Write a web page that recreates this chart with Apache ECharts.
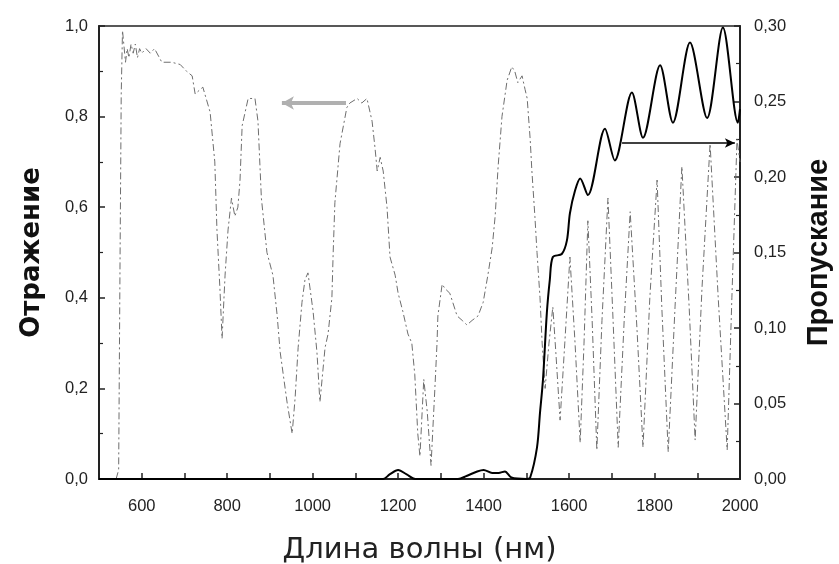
<!DOCTYPE html>
<html>
<head>
<meta charset="utf-8">
<script src="https://cdn.jsdelivr.net/npm/echarts@6/dist/echarts.min.js"></script>
<style>
  html, body { margin: 0; padding: 0; background: #fff; }
  #chart { width: 839px; height: 564px; }
</style>
</head>
<body>
<div id="chart"></div>
<script>
// Reflectance spectrum (left axis), wavelength in nm
const reflWave = [540, 546, 549, 552, 555, 558, 562, 566, 570, 575, 580, 585, 590, 595, 600, 610, 620, 630, 647, 670, 690, 705, 718, 725, 743, 760, 771, 776, 783, 788, 795, 802, 810, 818, 825, 830, 835, 849, 865, 872, 880, 893, 907, 917, 924, 940, 952, 959, 966, 975, 982, 989, 1001, 1010, 1017, 1029, 1036, 1045, 1048, 1052, 1064, 1080, 1087, 1104, 1115, 1127, 1139, 1146, 1151, 1158, 1165, 1174, 1181, 1193, 1200, 1211, 1223, 1232, 1239, 1246, 1251, 1260, 1268, 1277, 1286, 1291, 1293, 1303, 1310, 1321, 1338, 1350, 1361, 1373, 1387, 1399, 1410, 1420, 1427, 1434, 1443, 1455, 1466, 1473, 1480, 1490, 1497, 1502, 1509, 1513, 1520, 1525, 1532, 1537, 1544, 1553, 1562, 1569, 1579, 1590, 1602, 1614, 1626, 1635, 1644, 1654, 1665, 1677, 1691, 1703, 1715, 1729, 1743, 1759, 1773, 1789, 1806, 1817, 1832, 1848, 1864, 1881, 1895, 1911, 1930, 1949, 1970, 1981, 1993, 2000];
const reflValue = [0.00, 0.02, 0.45, 0.85, 0.99, 0.96, 0.92, 0.95, 0.93, 0.96, 0.94, 0.96, 0.93, 0.95, 0.94, 0.95, 0.94, 0.95, 0.92, 0.92, 0.915, 0.90, 0.89, 0.85, 0.865, 0.81, 0.70, 0.55, 0.42, 0.31, 0.45, 0.55, 0.62, 0.58, 0.60, 0.66, 0.78, 0.84, 0.84, 0.79, 0.62, 0.50, 0.45, 0.36, 0.28, 0.17, 0.10, 0.18, 0.29, 0.39, 0.44, 0.455, 0.37, 0.28, 0.17, 0.29, 0.32, 0.40, 0.50, 0.61, 0.74, 0.82, 0.83, 0.84, 0.83, 0.84, 0.79, 0.73, 0.68, 0.71, 0.68, 0.60, 0.49, 0.45, 0.41, 0.37, 0.32, 0.30, 0.23, 0.10, 0.05, 0.22, 0.15, 0.03, 0.20, 0.30, 0.36, 0.43, 0.42, 0.41, 0.36, 0.35, 0.34, 0.35, 0.36, 0.39, 0.45, 0.51, 0.58, 0.69, 0.80, 0.88, 0.91, 0.90, 0.875, 0.89, 0.86, 0.84, 0.75, 0.68, 0.58, 0.50, 0.40, 0.30, 0.20, 0.30, 0.38, 0.28, 0.13, 0.30, 0.49, 0.30, 0.08, 0.30, 0.57, 0.35, 0.064, 0.35, 0.62, 0.35, 0.07, 0.35, 0.59, 0.33, 0.07, 0.40, 0.66, 0.38, 0.06, 0.38, 0.69, 0.38, 0.086, 0.42, 0.74, 0.40, 0.064, 0.40, 0.75, 0.70];

// Transmission spectrum (right axis)
const transWave = [500, 1165, 1180, 1200, 1220, 1240, 1340, 1360, 1385, 1400, 1420, 1435, 1450, 1465, 1500, 1509, 1525, 1532, 1539, 1548, 1555, 1562, 1583, 1595, 1602, 1614, 1626, 1644, 1684, 1707, 1747, 1773, 1813, 1843, 1883, 1923, 1960, 1995, 2000];
const transValue = [0, 0, 0.003, 0.006, 0.003, 0, 0, 0.002, 0.005, 0.006, 0.004, 0.004, 0.005, 0.001, 0, 0.001, 0.021, 0.044, 0.066, 0.110, 0.132, 0.147, 0.149, 0.158, 0.176, 0.191, 0.199, 0.188, 0.232, 0.211, 0.256, 0.226, 0.274, 0.236, 0.289, 0.239, 0.299, 0.236, 0.245];

// Arrows pointing to each curve's axis
const reflArrow = [[1078, 0.83], [928, 0.83]];
const transArrow = [[1724, 0.2225], [1988, 0.2225]];

// Axis ranges
const xRange = [500, 2000];
const leftRange = [0, 1.0];
const rightRange = [0, 0.30];

const pair = (xs, ys) => xs.map((x, i) => [x, ys[i]]);
const comma = (v, d) => v.toFixed(d).replace('.', ',');

const chart = echarts.init(document.getElementById('chart'), null, { renderer: 'canvas' });

const tickFont = { fontFamily: 'Liberation Sans', fontSize: 16.5, color: '#222' };

chart.setOption({
  animation: false,
  backgroundColor: '#fff',
  grid: {
    left: 99, right: 99, top: 26, bottom: 85,
    outerBoundsMode: 'none', containLabel: false,
    show: true, borderColor: '#222', borderWidth: 1.5, backgroundColor: 'transparent'
  },
  xAxis: {
    type: 'value', min: xRange[0], max: xRange[1], interval: 100,
    name: 'Длина волны (нм)', nameLocation: 'middle', nameGap: 57,
    nameTextStyle: { fontFamily: 'DejaVu Sans', fontSize: 29, color: '#222' },
    axisLine: { lineStyle: { color: '#222', width: 2 } },
    axisTick: { inside: true, length: 6, lineStyle: { color: '#222', width: 1.5 } },
    axisLabel: Object.assign({
      margin: 19,
      formatter: v => (v % 200 === 0 && v !== 500 ? String(v) : '')
    }, tickFont),
    splitLine: { show: false }
  },
  yAxis: [
    {
      type: 'value', min: leftRange[0], max: leftRange[1], interval: 0.2, position: 'left',
      name: 'Отражение', nameLocation: 'middle', nameGap: 54, nameRotate: 90,
      nameTextStyle: { fontFamily: 'DejaVu Sans', fontSize: 26, fontWeight: 'bold', color: '#111' },
      axisLine: { show: true, lineStyle: { color: '#222', width: 2 } },
      axisTick: { show: true, inside: true, length: 6, lineStyle: { color: '#222', width: 1.5 } },
      minorTick: { show: true, splitNumber: 2, length: 4, lineStyle: { color: '#222', width: 1.2 } },
      axisLabel: Object.assign({ margin: 11, formatter: v => comma(v, 1) }, tickFont),
      splitLine: { show: false }
    },
    {
      type: 'value', min: rightRange[0], max: rightRange[1], interval: 0.05, position: 'right',
      name: 'Пропускание', nameLocation: 'middle', nameGap: 64, nameRotate: 90,
      nameTextStyle: { fontFamily: 'Liberation Sans', fontSize: 29, fontWeight: 'bold', color: '#111' },
      axisLine: { show: true, lineStyle: { color: '#222', width: 2 } },
      axisTick: { show: true, inside: true, length: 6, lineStyle: { color: '#222', width: 1.5 } },
      minorTick: { show: true, splitNumber: 2, length: 4, lineStyle: { color: '#222', width: 1.2 } },
      axisLabel: Object.assign({ margin: 14, formatter: v => comma(v, 2) }, tickFont),
      splitLine: { show: false }
    }
  ],
  series: [
    {
      name: 'Отражение', type: 'line', yAxisIndex: 0,
      data: pair(reflWave, reflValue),
      showSymbol: false, smooth: false,
      lineStyle: { color: '#6e6e6e', width: 1, type: [7, 3, 2, 3] },
      markLine: {
        silent: true, symbol: ['none', 'arrow'], symbolSize: [10, 12],
        label: { show: false },
        lineStyle: { color: '#b0b0b0', width: 4, type: 'solid' },
        data: [[{ coord: reflArrow[0] }, { coord: reflArrow[1] }]]
      }
    },
    {
      name: 'Пропускание', type: 'line', yAxisIndex: 1,
      data: pair(transWave, transValue),
      showSymbol: false, smooth: 0.3,
      lineStyle: { color: '#000', width: 2 },
      markLine: {
        silent: true, symbol: ['none', 'arrow'], symbolSize: [7, 10],
        label: { show: false },
        lineStyle: { color: '#000', width: 1.5, type: 'solid' },
        data: [[{ coord: transArrow[0] }, { coord: transArrow[1] }]]
      }
    }
  ]
});
</script>
</body>
</html>
